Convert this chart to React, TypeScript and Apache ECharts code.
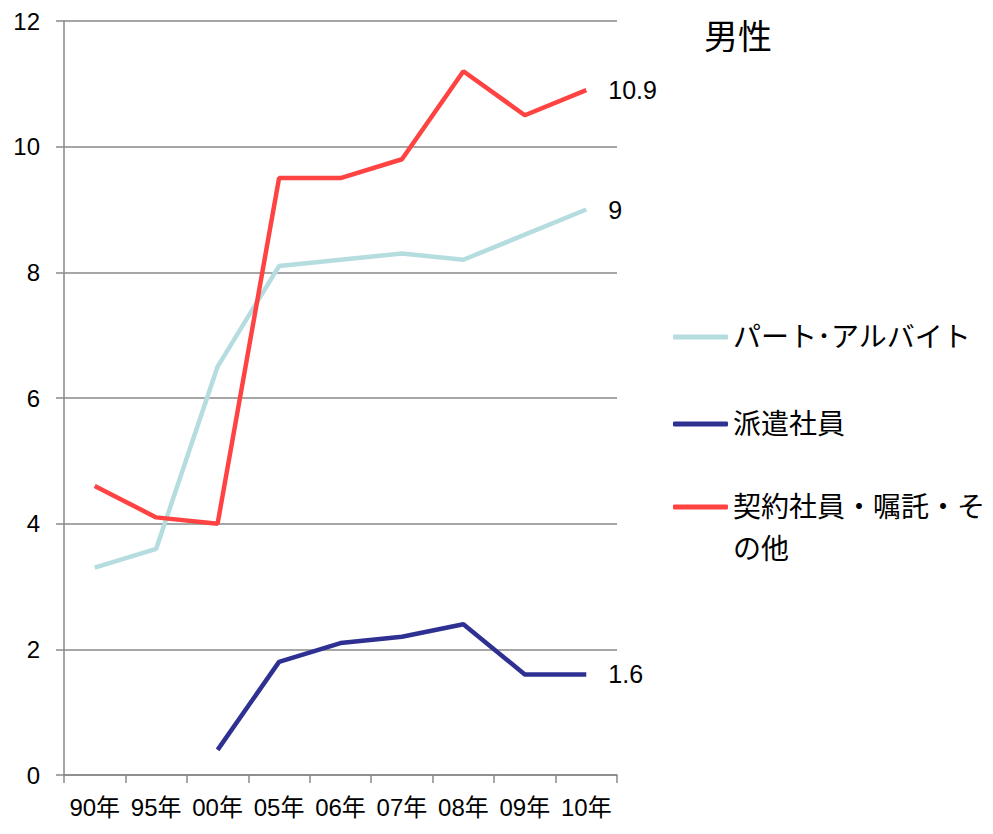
import React, { useEffect, useRef } from "react";
import * as echarts from "echarts";

const categories = ["90年", "95年", "00年", "05年", "06年", "07年", "08年", "09年", "10年"];
const partTime = [3.3, 3.6, 6.5, 8.1, 8.2, 8.3, 8.2, 8.6, 9.0];
const dispatched = [null, null, 0.4, 1.8, 2.1, 2.2, 2.4, 1.6, 1.6];
const contract = [4.6, 4.1, 4.0, 9.5, 9.5, 9.8, 11.2, 10.5, 10.9];
const seriesNames = ["パート･アルバイト", "派遣社員", "契約社員・嘱託・その他"];
const colors = ["#B5DCDF", "#2E3192", "#FF4343"];

const FONT = "'Liberation Sans', 'Noto Sans CJK JP', sans-serif";

export default function App() {
  const ref = useRef<HTMLDivElement>(null);
  useEffect(() => {
    if (!ref.current) return;
    const chart = echarts.init(ref.current, undefined, { renderer: "svg" });
    const endLabel = {
      show: true,
      distance: 22,
      fontSize: 25,
      color: "#000",
      fontFamily: FONT,
      formatter: (p: any) => String(p.value),
    };
    const legendBase = {
      orient: "vertical",
      left: 673,
      padding: 0,
      itemWidth: 55,
      itemHeight: 5,
      icon: "roundRect",
      itemGap: 5,
      selectedMode: false,
      textStyle: { fontSize: 28, color: "#000", fontFamily: FONT, lineHeight: 32, padding: [0, 0, 0, 0] },
    };
    chart.setOption({
      animation: false,
      textStyle: { fontFamily: FONT },
      grid: { left: 64, top: 21, right: 376, bottom: 59, containLabel: false },
      legend: [
        { ...legendBase, top: 321, data: [seriesNames[0]] },
        { ...legendBase, top: 408, data: [seriesNames[1]] },
        {
          ...legendBase,
          top: 491,
          data: [seriesNames[2]],
          formatter: () => "契約社員・嘱託・そ",
        },
      ],
      graphic: [
        {
          type: "text",
          left: 704,
          top: 20,
          style: { text: "男性", fontSize: 34, fill: "#000", fontFamily: FONT },
        },
        {
          type: "text",
          left: 733,
          top: 535,
          style: { text: "の他", fontSize: 28, fill: "#000", fontFamily: FONT },
        },
      ],
      xAxis: {
        type: "category",
        data: categories,
        boundaryGap: true,
        axisLine: { lineStyle: { color: "#888", width: 1.5 } },
        axisTick: { show: true, length: 8, lineStyle: { color: "#888", width: 1.5 } },
        axisLabel: { fontSize: 24, color: "#000", margin: 20, fontFamily: FONT, interval: 0 },
      },
      yAxis: {
        type: "value",
        min: 0,
        max: 12,
        interval: 2,
        axisLine: { show: true, lineStyle: { color: "#888", width: 1.5 } },
        axisTick: { show: true, length: 8, lineStyle: { color: "#888", width: 1.5 } },
        axisLabel: { fontSize: 24, color: "#000", margin: 24, fontFamily: FONT },
        splitLine: { show: true, lineStyle: { color: "#888", width: 1.5 } },
      },
      series: [
        {
          name: seriesNames[0],
          type: "line",
          data: partTime,
          symbol: "none",
          color: colors[0],
          lineStyle: { width: 4.5, color: colors[0] },
          endLabel,
        },
        {
          name: seriesNames[1],
          type: "line",
          data: dispatched,
          symbol: "none",
          color: colors[1],
          lineStyle: { width: 4.5, color: colors[1] },
          endLabel,
        },
        {
          name: seriesNames[2],
          type: "line",
          data: contract,
          symbol: "none",
          color: colors[2],
          lineStyle: { width: 4.5, color: colors[2] },
          endLabel,
        },
      ],
    });
    return () => chart.dispose();
  }, []);
  return (
    <div
      ref={ref}
      style={{ position: "absolute", left: 0, top: 0, width: 993, height: 834, background: "#fff" }}
    />
  );
}
